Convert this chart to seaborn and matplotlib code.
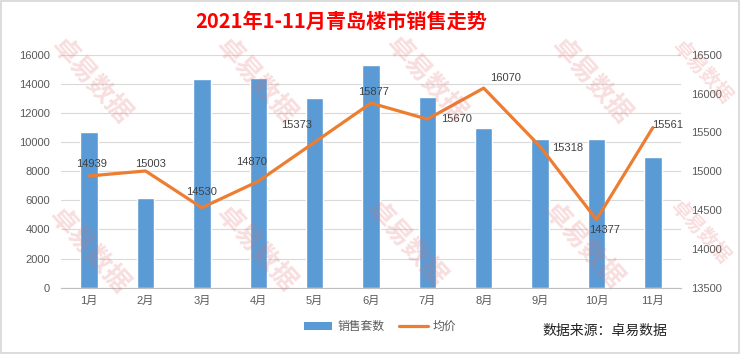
import matplotlib
matplotlib.use("Agg")
import matplotlib.pyplot as plt
from matplotlib.patches import Rectangle, Patch
from matplotlib.lines import Line2D
import seaborn as sns
import pandas as pd
import numpy as np

months = ["1月", "2月", "3月", "4月", "5月", "6月", "7月", "8月", "9月", "10月", "11月"]
sales = [10700, 6150, 14300, 14400, 13000, 15300, 13100, 10950, 10200, 10200, 8950]
avg_price = [14939, 15003, 14530, 14870, 15373, 15877, 15670, 16070, 15318, 14377, 15561]
left_ticks = [0, 2000, 4000, 6000, 8000, 10000, 12000, 14000, 16000]
right_ticks = [13500, 14000, 14500, 15000, 15500, 16000, 16500]
title = "2021年1-11月青岛楼市销售走势"
series_names = ["销售套数", "均价"]
source = "数据来源：卓易数据"
watermark = "卓易数据"

# label offsets in pixels (dx, dy) relative to each line point
label_offsets = [(2, 12), (5, 7), (0, 16), (-7, 19), (-18, 17), (3, 11),
                 (29, 0), (22, 10), (28, -1), (8, -10), (15, 3)]

df = pd.DataFrame({"month": months, "sales": sales, "price": avg_price})

sns.set_theme(style="white")
plt.rcParams["font.family"] = ["Liberation Sans", "Noto Sans CJK SC", "DejaVu Sans"]

BAR = "#5B9BD5"
LINE = "#ED7D31"
TXT = "#595959"

fig = plt.figure(figsize=(7.4, 3.54), dpi=100)
fig.patch.set_facecolor("white")
ax = fig.add_axes([61/740, 1-287.7/354, 620/740, 233/354])
ax2 = ax.twinx()

sns.barplot(data=df, x="month", y="sales", ax=ax, color=BAR, width=0.31,
            saturation=1, zorder=2)
sns.lineplot(data=df, x="month", y="price", ax=ax2, color=LINE, lw=2.3,
             sort=False, zorder=3)

ax.set_ylim(0, 16000)
ax.set_yticks(left_ticks)
ax2.set_ylim(13500, 16500)
ax2.set_yticks(right_ticks)
ax.set_xlim(-0.5, len(months) - 0.5)

ax.grid(axis="y", color="#d9d9d9", lw=0.8, zorder=0)
ax.set_axisbelow(True)
for a in (ax, ax2):
    for s in a.spines.values():
        s.set_visible(False)
ax.spines["bottom"].set_visible(True)
ax.spines["bottom"].set_color("#bfbfbf")
ax.spines["bottom"].set_linewidth(0.8)
ax.set_xlabel("")
ax.set_ylabel("")
ax2.set_xlabel("")
ax2.set_ylabel("")

ax.tick_params(axis="y", length=0, pad=8, labelsize=8, labelcolor=TXT)
ax2.tick_params(axis="y", length=0, pad=7, labelsize=8, labelcolor=TXT)
ax.tick_params(axis="x", which="major", length=0, pad=6, labelsize=8, labelcolor=TXT)
ax.set_xticks(np.arange(-0.5, len(months) + 0.5, 1), minor=True)
ax.tick_params(axis="x", which="minor", length=4, color="#bfbfbf", width=0.8)

for i, (v, off) in enumerate(zip(avg_price, label_offsets)):
    ax2.annotate(str(v), xy=(i, v), xytext=off, textcoords="offset pixels",
                 ha="center", va="center", fontsize=8, color="#404040", zorder=5)

fig.text(341/740, 1-21/354, title, ha="center", va="center", fontsize=14.5,
         fontweight="bold", color="#FF0000", family=["Noto Sans CJK SC"])

handles = [Patch(facecolor=BAR, edgecolor="none"),
           Line2D([0], [0], color=LINE, lw=2.3)]
leg = fig.legend(handles, series_names, loc="center", ncol=2,
                 bbox_to_anchor=(380/740, 1-327/354), frameon=False,
                 fontsize=8.5, handlelength=2.4, handleheight=0.6,
                 handletextpad=0.4, columnspacing=1.3)
for t in leg.get_texts():
    t.set_color(TXT)

fig.text(604.5/740, 1-331/354, source, ha="center", va="center", fontsize=10,
         color="#222222", family=["Noto Sans CJK SC"])

# watermarks (position x, y in pixels, font size)
wm_pos = [(90, 82, 19), (255, 82, 19), (425, 80, 19), (590, 82, 19), (702, 72, 14),
          (88, 252, 19), (255, 250, 19), (405, 245, 19), (582, 247, 19), (700, 232, 14)]
for (x, y, fs) in wm_pos:
    fig.text(x/740, 1-y/354, watermark, ha="center", va="center", fontsize=fs,
             fontweight="bold", color="#e06a6a", alpha=0.22, rotation=-48,
             family=["Noto Sans CJK SC"], zorder=10)

fig.patches.append(Rectangle((0.001, 0.002), 0.997, 0.995, transform=fig.transFigure,
                             fill=False, edgecolor="#d6d6d6", lw=1.2))

fig.savefig("out.png", dpi=100, facecolor="white")
